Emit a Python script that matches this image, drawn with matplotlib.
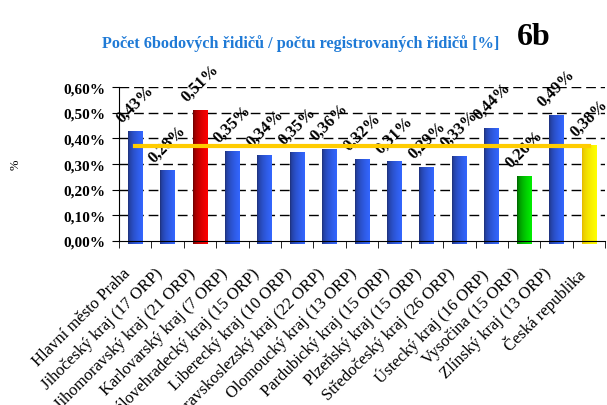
import matplotlib as mpl
mpl.use('Agg')
import matplotlib.pyplot as plt
import matplotlib.transforms as mtrans
import numpy as np
from matplotlib.colors import LinearSegmentedColormap

plt.rcParams['font.family'] = ['Liberation Serif', 'DejaVu Serif']

regions = ['Hlavní město Praha', 'Jihočeský kraj (17 ORP)',
           'Jihomoravský kraj (21 ORP)', 'Karlovarský kraj (7 ORP)',
           'Královehradecký kraj (15 ORP)', 'Liberecký kraj (10 ORP)',
           'Moravskoslezský kraj (22 ORP)', 'Olomoucký kraj (13 ORP)',
           'Pardubický kraj (15 ORP)', 'Plzeňský kraj (15 ORP)',
           'Středočeský kraj (26 ORP)', 'Ústecký kraj (16 ORP)',
           'Vysočina (15 ORP)', 'Zlínský kraj (13 ORP)', 'Česká republika']
values = [0.43, 0.275, 0.51, 0.35, 0.335, 0.345, 0.36, 0.32, 0.31, 0.29,
          0.33, 0.44, 0.255, 0.49, 0.375]
labels = ['0,43%', '0,28%', '0,51%', '0,35%', '0,34%', '0,35%', '0,36%',
          '0,32%', '0,31%', '0,29%', '0,33%', '0,44%', '0,26%', '0,49%', '0,38%']
average = 0.372

# dark -> bright gradient per bar
blue = ('#1b2a6a', '#3366ff')
grads = [blue] * 15
grads[2] = ('#5a0000', '#ff0000')
grads[12] = ('#005000', '#00ee00')
grads[14] = ('#e0b000', '#ffff00')

fig = plt.figure(figsize=(6.07, 4.06), dpi=100)
ax = fig.add_axes([0.196, 0.404, 0.801, 0.379])

x = np.arange(len(values))
w = 0.46
bars = ax.bar(x, values, w, color='none', zorder=2)
g = np.linspace(0, 1, 64) ** 0.45
g = g.reshape(1, -1)
for b, (c0, c1) in zip(bars, grads):
    cmap = LinearSegmentedColormap.from_list('g', [c0, c1])
    ax.imshow(g, cmap=cmap, aspect='auto', zorder=2, clip_on=False,
              extent=[b.get_x(), b.get_x() + b.get_width(), -0.01, b.get_height()])

for xi, v, lab in zip(x, values, labels):
    ax.annotate(lab, (xi, v), xytext=(0, 4), textcoords='offset points',
                rotation=45, ha='center', va='bottom', fontsize=12,
                fontweight='bold')

ax.plot([x[0], x[-1]], [average, average], color='#ffcc00', lw=3, zorder=3)

ax.set_xlim(-0.5, len(values) - 0.5)
ax.set_ylim(0, 0.6)
yt = np.arange(0, 0.61, 0.1)
ax.set_yticks(yt)
ax.set_yticklabels([('%.2f%%' % v).replace('.', ',') for v in yt],
                   fontsize=11, fontweight='bold')
for v in yt[1:]:
    ax.axhline(v, color='black', lw=1, ls=(0, (7, 3.5)), zorder=1)

ax.set_xticks(x)
ax.set_xticklabels(regions, rotation=45, ha='right', rotation_mode='anchor',
                   fontsize=12)
ax.tick_params(axis='x', which='major', length=0, pad=17)
shift = mtrans.ScaledTranslation(-13 / 100, 0, fig.dpi_scale_trans)
for t in ax.get_xticklabels():
    t.set_transform(t.get_transform() + shift)
ax.set_xticks(np.arange(-0.5, len(values), 1), minor=True)
ax.tick_params(axis='x', which='minor', length=5, direction='out', color='black')
ax.tick_params(axis='y', length=5, direction='out', color='black', pad=5)

for s in ['top', 'right']:
    ax.spines[s].set_visible(False)
ax.spines['left'].set_color('black')
ax.spines['bottom'].set_color('black')

fig.text(0.025, 0.595, '%', rotation=90, fontsize=9, ha='center', va='center')
fig.text(0.496, 0.893, 'Počet 6bodových řidičů / počtu registrovaných řidičů [%]',
         color='#1f7ad6', fontsize=11.7, fontweight='bold', ha='center', va='center')
fig.text(0.851, 0.908, '6b', fontsize=23, fontweight='bold', ha='left', va='center')

plt.savefig('out.png', dpi=100)
